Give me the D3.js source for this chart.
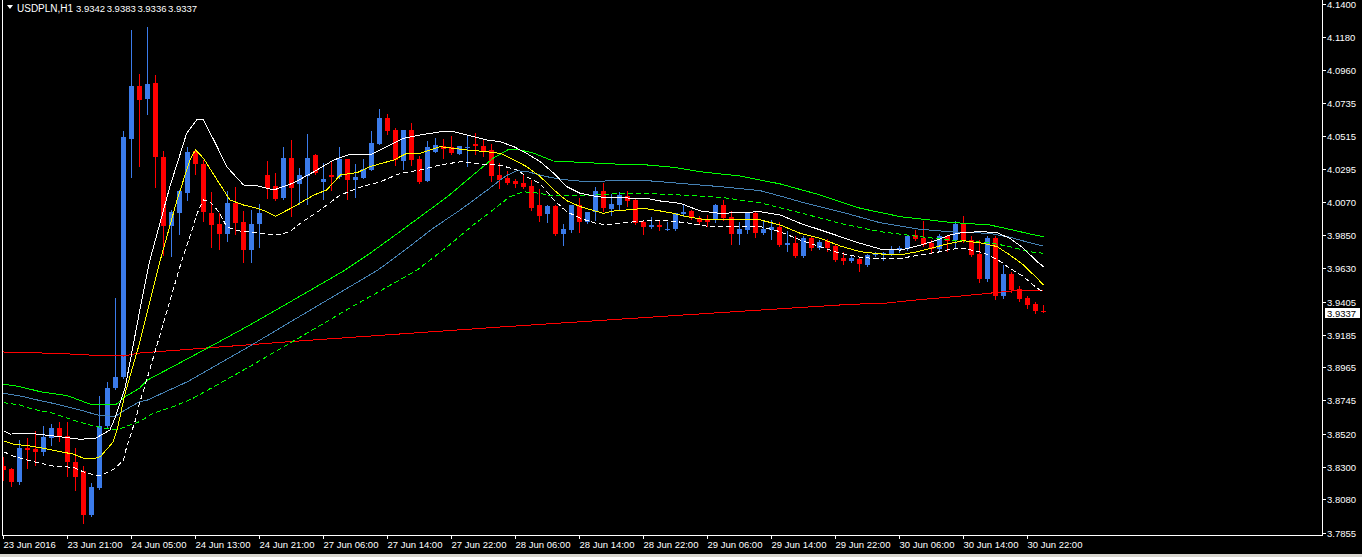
<!DOCTYPE html>
<html><head><meta charset="utf-8">
<script src="https://cdn.jsdelivr.net/npm/d3@7"></script>
<style>html,body{margin:0;padding:0;background:#000;overflow:hidden}</style>
</head><body>
<svg id="c" width="1362" height="557"></svg>
<script>
const symbolTitle = "USDPLN,H1";
const lastQuote = ["3.9342", "3.9383", "3.9336", "3.9337"];
const lastPrice = 3.9337;
const timeLabels = ["23 Jun 2016","23 Jun 21:00","24 Jun 05:00","24 Jun 13:00","24 Jun 21:00","27 Jun 06:00","27 Jun 14:00","27 Jun 22:00","28 Jun 06:00","28 Jun 14:00","28 Jun 22:00","29 Jun 06:00","29 Jun 14:00","29 Jun 22:00","30 Jun 06:00","30 Jun 14:00","30 Jun 22:00"];
const timeLabelStep = 8;
const priceTicks = ["4.1400","4.1180","4.0960","4.0735","4.0515","4.0295","4.0070","3.9850","3.9630","3.9405","3.9185","3.8965","3.8745","3.8520","3.8300","3.8080","3.7855"];

const opens = [3.8304,3.8284,3.8197,3.8425,3.8418,3.8398,3.8492,3.8559,3.8505,3.8331,3.8271,3.7976,3.8157,3.8572,3.8827,3.8900,4.0495,4.0850,4.0763,4.0871,4.0375,3.9912,3.9999,4.0133,4.0415,4.0328,3.9999,3.9926,3.9859,4.0066,3.9939,3.9751,3.9926,4.0254,4.0180,4.0100,4.0368,4.0194,4.0247,4.0388,4.0207,4.0254,4.0241,4.0361,4.0221,4.0234,4.0288,4.0462,4.0636,4.0556,4.0348,4.0556,4.0361,4.0214,4.0408,4.0448,4.0442,4.0395,4.0435,4.0462,4.0448,4.0422,4.0254,4.0234,4.0214,4.0200,4.0180,4.0053,3.9993,4.0046,3.9859,3.9886,4.0053,3.9939,4.0006,4.0147,4.0026,4.0053,4.0113,4.0087,3.9939,3.9906,3.9919,3.9889,3.9892,3.9993,4.0013,3.9966,3.9953,3.9953,4.0053,3.9973,3.9859,3.9886,3.9999,3.9865,3.9886,3.9906,3.9785,3.9798,3.9711,3.9832,3.9765,3.9812,3.9778,3.9698,3.9678,3.9691,3.9651,3.9718,3.9718,3.9725,3.9751,3.9758,3.9852,3.9832,3.9798,3.9758,3.9845,3.9818,3.9926,3.9818,3.9725,3.9557,3.9832,3.9443,3.9591,3.9490,3.9430,3.9390,3.9342];
const highs = [3.8364,3.8291,3.8478,3.8492,3.8539,3.8572,3.8585,3.8599,3.8599,3.8425,3.8304,3.8190,3.8773,3.8867,3.9430,4.0549,4.1226,4.0931,4.1246,4.0924,4.0415,4.0020,4.0154,4.0442,4.0422,4.0355,4.0140,3.9999,4.0147,4.0174,4.0013,4.0020,4.0060,4.0348,4.0267,4.0442,4.0489,4.0301,4.0529,4.0395,4.0334,4.0348,4.0442,4.0361,4.0328,4.0361,4.0549,4.0696,4.0663,4.0569,4.0556,4.0603,4.0381,4.0482,4.0502,4.0495,4.0515,4.0448,4.0522,4.0536,4.0489,4.0462,4.0334,4.0281,4.0227,4.0254,4.0221,4.0160,4.0053,4.0053,3.9926,4.0053,4.0100,4.0006,4.0174,4.0200,4.0127,4.0140,4.0147,4.0093,3.9946,3.9973,3.9946,3.9939,3.9999,4.0053,4.0020,3.9979,3.9986,4.0060,4.0087,4.0013,3.9939,3.9999,4.0006,3.9946,3.9953,3.9939,3.9879,3.9845,3.9845,3.9839,3.9818,3.9825,3.9785,3.9738,3.9711,3.9698,3.9725,3.9738,3.9738,3.9778,3.9778,3.9852,3.9886,3.9946,3.9818,3.9859,3.9852,3.9946,3.9979,3.9845,3.9818,3.9845,3.9845,3.9651,3.9604,3.9510,3.9443,3.9403,3.9383];
const lows = [3.8210,3.8170,3.8183,3.8291,3.8311,3.8378,3.8445,3.8472,3.8237,3.8143,3.7922,3.7969,3.8150,3.8565,3.8820,3.8894,4.0241,4.0314,4.0663,4.0174,3.9718,3.9711,3.9859,4.0087,4.0261,3.9946,3.9772,3.9758,3.9812,3.9859,3.9671,3.9671,3.9772,4.0100,4.0087,4.0093,3.9979,4.0060,4.0060,4.0261,4.0093,4.0154,4.0234,4.0093,4.0107,4.0234,4.0288,4.0462,4.0529,4.0321,4.0294,4.0321,4.0200,4.0214,4.0408,4.0368,4.0395,4.0395,4.0314,4.0395,4.0381,4.0214,4.0167,4.0194,4.0174,4.0167,4.0020,3.9946,3.9939,3.9852,3.9785,3.9872,3.9872,3.9932,3.9953,4.0013,3.9986,4.0020,4.0046,3.9926,3.9859,3.9899,3.9886,3.9886,3.9886,3.9979,3.9959,3.9926,3.9912,3.9939,3.9953,3.9792,3.9792,3.9865,3.9839,3.9859,3.9825,3.9778,3.9745,3.9705,3.9705,3.9751,3.9758,3.9745,3.9678,3.9658,3.9671,3.9611,3.9644,3.9711,3.9684,3.9718,3.9738,3.9751,3.9818,3.9778,3.9738,3.9751,3.9745,3.9765,3.9805,3.9711,3.9537,3.9544,3.9423,3.9430,3.9470,3.9410,3.9363,3.9329,3.9336];
const closes = [3.8277,3.8197,3.8425,3.8411,3.8398,3.8498,3.8559,3.8505,3.8331,3.8230,3.7976,3.8163,3.8572,3.8827,3.8900,4.0509,4.0850,4.0757,4.0864,4.0375,3.9912,4.0006,4.0147,4.0408,4.0328,4.0006,3.9919,3.9859,4.0066,3.9932,3.9751,3.9926,3.9999,4.0167,4.0093,4.0368,4.0167,4.0254,4.0368,4.0267,4.0227,4.0241,4.0361,4.0221,4.0241,4.0294,4.0469,4.0636,4.0549,4.0355,4.0556,4.0355,4.0207,4.0442,4.0455,4.0428,4.0402,4.0448,4.0442,4.0448,4.0415,4.0247,4.0221,4.0200,4.0194,4.0174,4.0033,3.9979,4.0046,3.9859,3.9892,4.0053,3.9939,4.0006,4.0147,4.0033,4.0060,4.0120,4.0080,3.9932,3.9906,3.9919,3.9906,3.9892,3.9999,4.0006,3.9966,3.9939,3.9939,4.0053,3.9966,3.9859,3.9892,3.9999,3.9865,3.9892,3.9906,3.9785,3.9798,3.9711,3.9832,3.9765,3.9805,3.9765,3.9684,3.9678,3.9698,3.9658,3.9718,3.9725,3.9731,3.9751,3.9765,3.9845,3.9825,3.9785,3.9758,3.9845,3.9812,3.9926,3.9818,3.9718,3.9557,3.9832,3.9443,3.9591,3.9483,3.9423,3.9383,3.9343,3.9337];

// indicator lines: [bar index, price]
const maSlowRed = [[0,3.9068],[7,3.9058],[12,3.9044],[15,3.9041],[17,3.9061],[37,3.9142],[62,3.9235],[87,3.9323],[106,3.9388],[110,3.9394],[114,3.9416],[118,3.9435],[122,3.9455],[126,3.9477],[130,3.9483]];
const envSlowUpper = [[0,3.8853],[2.1,3.8835],[4.6,3.8802],[8,3.8775],[10.8,3.8719],[12.1,3.8713],[14,3.8713],[15.2,3.8768],[17,3.8825],[18,3.8880],[24.6,3.9068],[30.8,3.9249],[37.1,3.9443],[42.7,3.9617],[45.8,3.9729],[48.7,3.9841],[52.1,3.9975],[55.5,4.0109],[58.7,4.0254],[61.2,4.0366],[63,4.0422],[64.2,4.0426],[66.2,4.0402],[68.7,4.0348],[72.1,4.0339],[76.2,4.0328],[80.5,4.0321],[83.7,4.0306],[87.1,4.0276],[92.1,4.0247],[97.1,4.0194],[102.1,4.0120],[107.1,4.0031],[112.1,3.9975],[118.3,3.9937],[123.3,3.9919],[125.8,3.9890],[128.3,3.9859],[130,3.9841]];
const maSlowBlue = [[0,3.8791],[2.1,3.8773],[4.6,3.8742],[6.2,3.8724],[9.6,3.8679],[11.7,3.8646],[14,3.8636],[15.2,3.8679],[17,3.8735],[18,3.8746],[21.2,3.8825],[23,3.8869],[30.8,3.9108],[37.1,3.9309],[46.8,3.9617],[49.9,3.9740],[53.7,3.9897],[57.1,4.0020],[60.5,4.0154],[62.1,4.0221],[63,4.0254],[64.2,4.0283],[65.5,4.0276],[67.9,4.0243],[69.6,4.0225],[72.9,4.0209],[76.2,4.0216],[80.5,4.0216],[84.6,4.0198],[89.6,4.0176],[94.6,4.0149],[97.1,4.0113],[99.6,4.0075],[104.6,4.0008],[109.6,3.9934],[114.6,3.9890],[118.3,3.9874],[123.3,3.9863],[125.8,3.9837],[128.3,3.9800],[130,3.9778]];
const envSlowLower = [[0,3.8728],[2.1,3.8713],[3.7,3.8684],[6.2,3.8657],[8.7,3.8612],[10.8,3.8579],[12.1,3.8563],[14.2,3.8545],[15.2,3.8567],[17,3.8601],[18.7,3.8657],[21.2,3.8701],[23.7,3.8758],[30.9,3.8974],[37.1,3.9168],[43.3,3.9363],[51.7,3.9617],[55.5,3.9774],[58.7,3.9919],[61.2,4.0020],[63.3,4.0109],[65,4.0142],[67.1,4.0131],[68.7,4.0113],[72.1,4.0115],[76.2,4.0127],[80.5,4.0131],[84.6,4.0120],[89.6,4.0105],[94.6,4.0068],[99.6,4.0001],[104.6,3.9930],[109.6,3.9874],[114.6,3.9841],[118.3,3.9818],[123.3,3.9800],[125.8,3.9774],[128.3,3.9740],[130,3.9729]];
const envFastUpper = [[0,3.8541],[0.8,3.8518],[3.3,3.8523],[7.1,3.8500],[9.6,3.8483],[11.5,3.8490],[13.3,3.8545],[14,3.8634],[15.2,3.8827],[17,3.9338],[18.3,3.9684],[20.8,4.0176],[22.9,4.0534],[24.2,4.0627],[25,4.0623],[26.7,4.0444],[27.9,4.0310],[30,4.0187],[31.7,4.0182],[33.8,4.0154],[36.3,4.0202],[38.8,4.0276],[41.3,4.0355],[43.3,4.0393],[45.8,4.0388],[47.9,4.0444],[50,4.0500],[52.1,4.0522],[54.6,4.0544],[56.3,4.0544],[57.9,4.0522],[60.4,4.0489],[62.1,4.0477],[63.8,4.0444],[65.4,4.0399],[67.1,4.0343],[68.8,4.0265],[70.4,4.0176],[72.1,4.0131],[73.8,4.0113],[75.4,4.0102],[80.4,4.0098],[82.1,4.0080],[84.6,4.0064],[87.1,4.0013],[89.6,3.9997],[94.6,4.0008],[97.1,3.9986],[99.6,3.9930],[102.1,3.9886],[104.6,3.9841],[107.1,3.9796],[109.6,3.9758],[112.1,3.9751],[114.2,3.9778],[116.7,3.9818],[118.3,3.9852],[120,3.9870],[122.5,3.9874],[124.2,3.9867],[125.8,3.9830],[127.5,3.9763],[129.2,3.9673],[130,3.9640]];
const maFastYellow = [[0,3.8472],[1.2,3.8451],[3.3,3.8438],[5,3.8423],[7.1,3.8400],[8.7,3.8384],[10,3.8356],[11.2,3.8353],[12.1,3.8366],[13.7,3.8465],[14.2,3.8545],[15.2,3.8791],[17,3.9126],[19.6,3.9684],[21.7,4.0087],[23.3,4.0355],[24,4.0422],[25,4.0366],[26.7,4.0221],[28.3,4.0087],[30,4.0053],[31.7,4.0031],[32.9,4.0008],[34,3.9977],[36.3,4.0042],[38.8,4.0120],[40.4,4.0154],[42.1,4.0254],[44.2,4.0270],[45.8,4.0310],[48.8,4.0355],[50.4,4.0399],[52.1,4.0399],[54.6,4.0444],[56.3,4.0433],[57.9,4.0422],[60.4,4.0410],[62.1,4.0399],[63.8,4.0355],[65.4,4.0310],[67.1,4.0243],[68.8,4.0154],[70.4,4.0082],[72.1,4.0042],[73.8,4.0015],[75,3.9997],[76.3,4.0013],[78.8,4.0024],[80,4.0031],[82.1,4.0013],[83.8,3.9997],[85.4,3.9975],[87.9,3.9953],[94.6,3.9953],[97.1,3.9919],[99.6,3.9863],[102.1,3.9830],[104.6,3.9778],[107.1,3.9740],[109.6,3.9725],[112.1,3.9718],[114.2,3.9740],[116.7,3.9774],[118.3,3.9796],[120,3.9814],[122.5,3.9796],[124.2,3.9774],[125.8,3.9718],[127.5,3.9651],[129.2,3.9562],[130,3.9517]];
const envFastLower = [[0,3.8400],[1.2,3.8371],[3.7,3.8333],[6.2,3.8304],[8.7,3.8295],[10.4,3.8255],[12.1,3.8239],[13.8,3.8282],[15,3.8344],[15.4,3.8433],[16.5,3.8612],[17,3.8724],[17.9,3.8880],[22.3,3.9684],[23.3,3.9841],[24.2,3.9997],[25,4.0087],[25.8,4.0075],[26.9,4.0008],[27.9,3.9908],[29.2,3.9881],[31.7,3.9867],[34.2,3.9852],[35.8,3.9874],[37.1,3.9930],[39.6,4.0020],[42.1,4.0120],[44.6,4.0172],[47.1,4.0209],[49.6,4.0265],[52.1,4.0288],[54.6,4.0321],[57.1,4.0343],[59.6,4.0328],[62.1,4.0319],[64.2,4.0288],[65.4,4.0243],[67.1,4.0194],[68.8,4.0087],[70.4,4.0008],[72.1,3.9964],[73.8,3.9934],[75.4,3.9919],[77.5,3.9934],[80.4,3.9948],[82.9,3.9948],[85.4,3.9934],[87.9,3.9912],[92.1,3.9912],[94.6,3.9908],[97.1,3.9874],[99.6,3.9818],[102.1,3.9774],[104.6,3.9729],[107.1,3.9703],[109.6,3.9691],[112.1,3.9695],[114.6,3.9718],[117.1,3.9740],[118.3,3.9756],[120,3.9763],[122.5,3.9733],[124.2,3.9689],[125.8,3.9629],[127.5,3.9573],[129.2,3.9495],[130,3.9472]];

const W = 1362, H = 557;
const plotL = 2, plotR = 1322, plotB = 535;
const FONT = "'Liberation Sans', Arial, sans-serif";
const svg = d3.select("#c");
svg.append("rect").attr("width", W).attr("height", H).attr("fill", "#000");
svg.append("rect").attr("x", 0).attr("y", 554).attr("width", W).attr("height", 3).attr("fill", "#D8D6D0");

const n = opens.length;
const x = d3.scaleLinear().domain([0, n - 1]).range([3.5, 3.5 + 8 * (n - 1)]);
const y = d3.scaleLinear().domain([3.7855, 4.1400]).range([533, 4]);

const defs = svg.append("defs");
defs.append("clipPath").attr("id", "plot").append("rect")
  .attr("x", plotL + 1).attr("y", 0).attr("width", plotR - plotL - 1).attr("height", plotB);

const g = svg.append("g").attr("clip-path", "url(#plot)");

const bars = d3.range(n).map(i => ({i, o: opens[i], h: highs[i], l: lows[i], c: closes[i]}));
const BULL = "#3B7BEA", BEAR = "#FF0000";
const col = d => d.c >= d.o ? BULL : BEAR;

g.selectAll("line.wick").data(bars).join("line")
  .attr("class", "wick")
  .attr("x1", d => x(d.i)).attr("x2", d => x(d.i))
  .attr("y1", d => Math.round(y(d.h))).attr("y2", d => Math.round(y(d.l)) + 1)
  .attr("stroke", col).attr("stroke-width", 1).attr("shape-rendering", "crispEdges");

g.selectAll("rect.body").data(bars).join("rect")
  .attr("class", "body")
  .attr("x", d => x(d.i) - 2.5)
  .attr("width", 5)
  .attr("y", d => Math.round(y(Math.max(d.o, d.c))))
  .attr("height", d => Math.max(1, Math.round(y(Math.min(d.o, d.c))) - Math.round(y(Math.max(d.o, d.c)))))
  .attr("fill", col).attr("shape-rendering", "crispEdges");

const line = d3.line().x(d => x(d[0])).y(d => y(d[1]));
const series = [
  {d: maSlowRed, c: "#FF0000", dash: null},
  {d: envSlowUpper, c: "#00FF00", dash: null},
  {d: maSlowBlue, c: "#4682B4", dash: null},
  {d: envSlowLower, c: "#00FF00", dash: "5,3"},
  {d: envFastUpper, c: "#FFFFFF", dash: null},
  {d: maFastYellow, c: "#FFFF00", dash: null},
  {d: envFastLower, c: "#FFFFFF", dash: "5,3"}
];
series.forEach(s => {
  g.append("path").datum(s.d).attr("d", line)
    .attr("fill", "none").attr("stroke", s.c).attr("stroke-width", 1)
    .attr("stroke-dasharray", s.dash).attr("shape-rendering", "crispEdges");
});

// frame
const frame = svg.append("g").attr("stroke", "#FFFFFF").attr("stroke-width", 1).attr("shape-rendering", "crispEdges");
frame.append("line").attr("x1", plotL + 0.5).attr("x2", plotL + 0.5).attr("y1", 0).attr("y2", plotB + 1);
frame.append("line").attr("x1", plotR + 0.5).attr("x2", plotR + 0.5).attr("y1", 0).attr("y2", plotB + 1);
frame.append("line").attr("x1", plotL).attr("x2", plotR + 1).attr("y1", plotB + 0.5).attr("y2", plotB + 0.5);

// price axis
const pa = svg.append("g");
priceTicks.forEach(t => {
  const yy = Math.round(y(+t)) + 0.5;
  pa.append("line").attr("x1", plotR + 1).attr("x2", plotR + 4).attr("y1", yy).attr("y2", yy)
    .attr("stroke", "#FFF").attr("shape-rendering", "crispEdges");
  pa.append("text").attr("x", plotR + 5).attr("y", yy + 3.5).text(t)
    .attr("fill", "#FFF").attr("font-family", FONT).attr("font-size", "9.5px");
});
// last price box
const ly = Math.round(y(lastPrice));
pa.append("rect").attr("x", plotR + 3).attr("y", ly - 4).attr("width", 35).attr("height", 10).attr("fill", "#FFF");
pa.append("text").attr("x", plotR + 5).attr("y", ly + 4.5).text(lastPrice.toFixed(4))
  .attr("fill", "#000").attr("font-family", FONT).attr("font-size", "9.5px");

// time axis
const ta = svg.append("g");
timeLabels.forEach((t, k) => {
  const xx = x(k * timeLabelStep);
  ta.append("line").attr("x1", xx).attr("x2", xx).attr("y1", plotB + 1).attr("y2", plotB + 4)
    .attr("stroke", "#FFF").attr("shape-rendering", "crispEdges");
  ta.append("text").attr("x", xx).attr("y", 548).text(t)
    .attr("fill", "#FFF").attr("font-family", FONT).attr("font-size", "9.5px");
});

// header
svg.append("path").attr("d", "M7,5 L13,5 L10,9 Z").attr("fill", "#FFF");
svg.append("text").attr("x", 17).attr("y", 11.5).text(symbolTitle)
  .attr("fill", "#FFF").attr("font-family", FONT).attr("font-size", "10px");
lastQuote.forEach((q, k) => {
  svg.append("text").attr("x", 76 + k * 30.7).attr("y", 11.5).text(q)
    .attr("fill", "#FFF").attr("font-family", FONT).attr("font-size", "9.5px");
});
</script>
</body></html>
